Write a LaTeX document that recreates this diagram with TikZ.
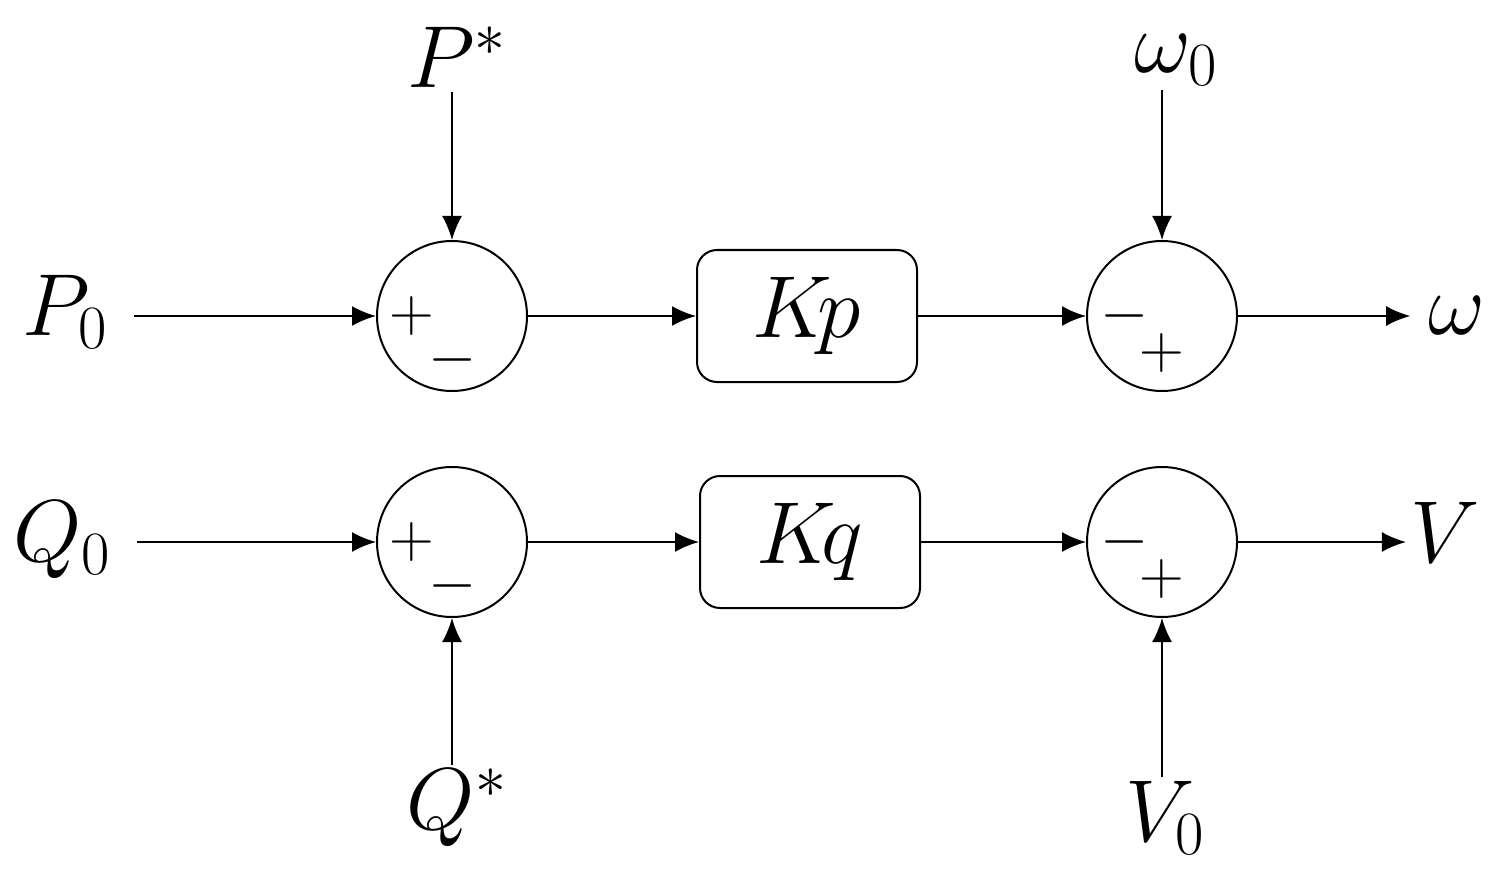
\documentclass[tikz,border=0pt]{standalone}
\usepackage{fix-cm}
\usepackage{amsmath}
\usetikzlibrary{arrows.meta}

\tikzset{
  sig/.style={line width=1pt, -{Latex[length=12pt,width=10pt]}},
  sumnode/.style={draw, circle, line width=1pt, minimum size=75pt, inner sep=0pt},
  gainbox/.style={draw, rounded corners=10pt, line width=1pt, minimum width=110pt, minimum height=66pt},
  lbl/.style={inner sep=2pt, font=\fontsize{44}{52}\selectfont},
  sgn/.style={inner sep=0pt, font=\fontsize{31}{37}\selectfont}
}

\begin{document}
\begin{tikzpicture}[x=0.5pt,y=-0.5pt]
	\useasboundingbox (0,0) rectangle (1503,882);
	% summing junctions and gains
	\node[sumnode] (sumP) at (452,316) {};
	\node[sumnode] (sumQ) at (452,542) {};
	\node[sumnode] (sumW) at (1162,316) {};
	\node[sumnode] (sumV) at (1162,542) {};
	\node[gainbox] (kp) at (807,316) {\fontsize{44}{52}\selectfont$K\!p$};
	\node[gainbox] (kq) at (810,542) {\fontsize{44}{52}\selectfont$K\!q$};
	% signs
	\node[sgn] at ([shift={(-40,0)}]sumP) {$+$};
	\node[sgn] at ([shift={(1,44)}]sumP) {$-$};
	\node[sgn] at ([shift={(-40,0)}]sumQ) {$+$};
	\node[sgn] at ([shift={(1,44)}]sumQ) {$-$};
	\node[sgn] at ([shift={(-37,0)}]sumW) {$-$};
	\node[sgn] at ([shift={(0,37)}]sumW) {$+$};
	\node[sgn] at ([shift={(-37,0)}]sumV) {$-$};
	\node[sgn] at ([shift={(0,37)}]sumV) {$+$};
	% signal labels
	\node[lbl] (p0) at (65,312) {$P_0$};
	\node[lbl] (q0) at (62,540) {$Q_0$};
	\node[lbl] (pstar) at (457,57) {$P^*$};
	\node[lbl] (qstar) at (457,808) {$Q^*$};
	\node[lbl] (w0) at (1176,60) {$\omega_0$};
	\node[lbl] (v0) at (1165,818) {$V_0$};
	\node[lbl] (w) at (1457,316) {$\omega$};
	\node[lbl] (v) at (1445,532) {$V$};
	% top loop
	\draw[sig, shorten <=11pt] (p0.east |- sumP) -- (sumP.west);
	\draw[sig] (pstar.south -| sumP) -- (sumP.north);
	\draw[sig] (sumP) -- (kp);
	\draw[sig] (kp) -- (sumW);
	\draw[sig] (w0.south -| sumW) -- (sumW.north);
	\draw[sig, shorten >=7pt] (sumW) -- (w.west |- sumW);
	% bottom loop
	\draw[sig, shorten <=11pt] (q0.east |- sumQ) -- (sumQ.west);
	\draw[sig] (qstar.north -| sumQ) -- (sumQ.south);
	\draw[sig] (sumQ) -- (kq);
	\draw[sig] (kq) -- (sumV);
	\draw[sig] (v0.north -| sumV) -- (sumV.south);
	\draw[sig] (sumV) -- (v.west |- sumV);
\end{tikzpicture}
\end{document}
